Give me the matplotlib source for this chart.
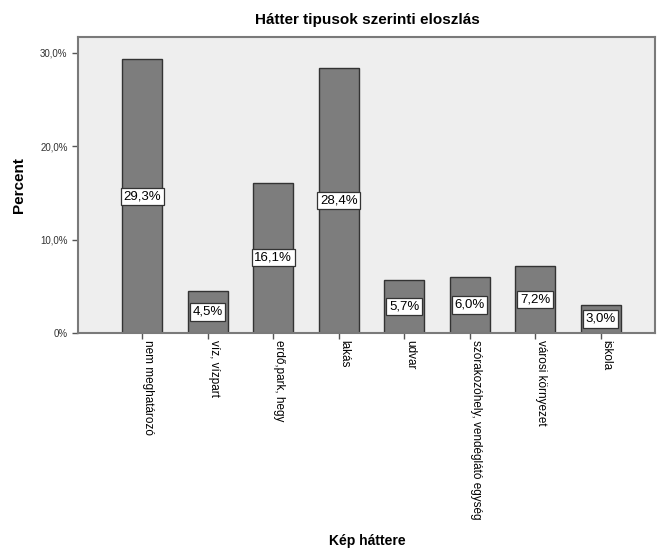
import matplotlib
matplotlib.use("Agg")
import matplotlib.pyplot as plt
import numpy as np

plt.rcParams['font.family'] = ['Liberation Sans', 'DejaVu Sans']

# data
categories = ['nem meghatározó', 'víz, vízpart', 'erdő,park, hegy', 'lakás', 'udvar',
              'szórakozóhely, vendéglátó egység', 'városi környezet', 'iskola']
percents = [29.3, 4.5, 16.1, 28.4, 5.7, 6.0, 7.2, 3.0]
yticks = [0, 10, 20, 30]
ytick_labels = ['0%', '10,0%', '20,0%', '30,0%']

fig = plt.figure(figsize=(6.57, 5.51), dpi=100)
ax = fig.add_axes([78 / 657, 1 - 333 / 551, 577 / 657, 296 / 551])
ax.set_facecolor('#eeeeee')

x = np.arange(len(categories))
ax.bar(x, percents, width=0.61, color='#7d7d7d', edgecolor='#333333', linewidth=1.0, zorder=2)

# value labels in white boxes at half bar height
for xi, p in zip(x, percents):
    ax.text(xi, p / 2, ('%.1f%%' % p).replace('.', ','), ha='center', va='center',
            fontsize=9.5, zorder=3,
            bbox=dict(boxstyle='square,pad=0.2', facecolor='white', edgecolor='#333333', linewidth=0.9))

ax.set_xlim(-0.98, 7.83)
ax.set_ylim(0, 31.7)
ax.set_yticks(yticks)
ax.set_yticklabels(ytick_labels, fontsize=7, color='#333333')
ax.set_xticks(x)
ax.set_xticklabels(categories, rotation=-90, fontsize=8.5, va='top', ha='left')
ax.tick_params(axis='both', direction='out', length=4, width=1, color='#555555')
ax.tick_params(axis='x', pad=1)

for s in ax.spines.values():
    s.set_color('#7a7a7a')
    s.set_linewidth(1.5)

ax.set_ylabel('Percent', fontsize=11, fontweight='bold', labelpad=10)
fig.text(367 / 657, 1 - 541 / 551, 'Kép háttere', ha='center', va='center', fontsize=10, fontweight='bold')
fig.text(367 / 657, 1 - 20 / 551, 'Hátter tipusok szerinti eloszlás', ha='center', va='center',
         fontsize=11, fontweight='bold')

fig.savefig('out.png', dpi=100)
